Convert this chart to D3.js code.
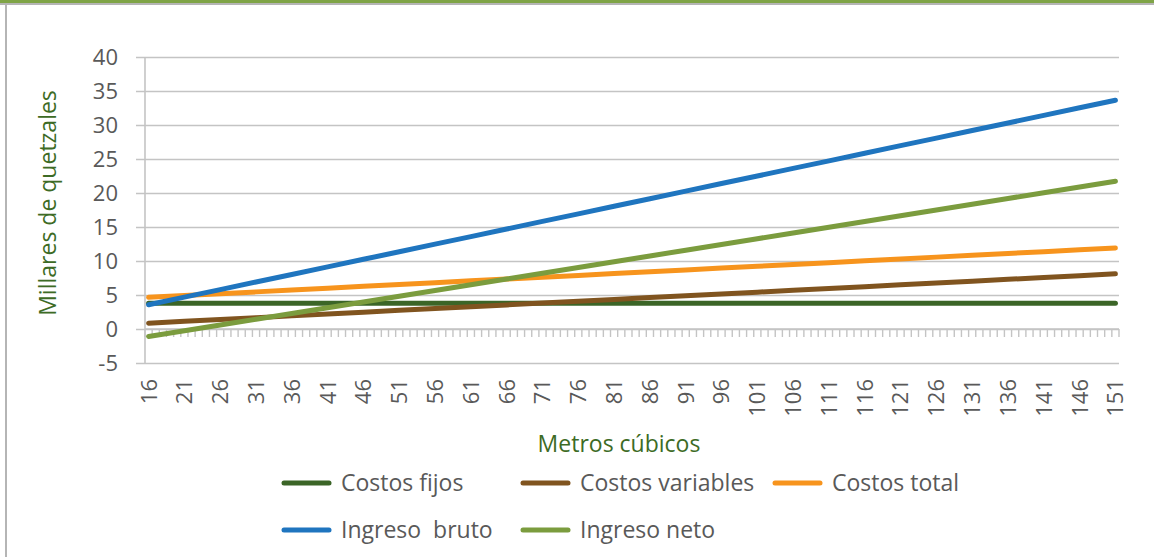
<!DOCTYPE html>
<html><head><meta charset="utf-8">
<script src="https://cdn.jsdelivr.net/npm/d3@7"></script>
<style>body{margin:0;background:#fff;} svg{display:block;}</style>
</head><body>
<svg id="chart" width="1154" height="557"></svg>
<script>
// ---- data ----
const categories = [16,17,18,19,20,21,22,23,24,25,26,27,28,29,30,31,32,33,34,35,36,37,38,39,40,41,42,43,44,45,46,47,48,49,50,51,52,53,54,55,56,57,58,59,60,61,62,63,64,65,66,67,68,69,70,71,72,73,74,75,76,77,78,79,80,81,82,83,84,85,86,87,88,89,90,91,92,93,94,95,96,97,98,99,100,101,102,103,104,105,106,107,108,109,110,111,112,113,114,115,116,117,118,119,120,121,122,123,124,125,126,127,128,129,130,131,132,133,134,135,136,137,138,139,140,141,142,143,144,145,146,147,148,149,150,151];
const tickLabels = [16,21,26,31,36,41,46,51,56,61,66,71,76,81,86,91,96,101,106,111,116,121,126,131,136,141,146,151];
const yTicks = [-5,0,5,10,15,20,25,30,35,40];
// values read at the labelled categories (tickLabels)
const costosFijos = [3.8,3.8,3.8,3.8,3.8,3.8,3.8,3.8,3.8,3.8,3.8,3.8,3.8,3.8,3.8,3.8,3.8,3.8,3.8,3.8,3.8,3.8,3.8,3.8,3.8,3.8,3.8,3.8];
const costosVariables = [0.86,1.13,1.40,1.66,1.93,2.20,2.47,2.74,3.01,3.28,3.54,3.81,4.08,4.35,4.62,4.89,5.16,5.42,5.69,5.96,6.23,6.50,6.77,7.03,7.30,7.57,7.84,8.11];
const costosTotal = [4.66,4.93,5.20,5.46,5.73,6.00,6.27,6.54,6.81,7.08,7.34,7.61,7.88,8.15,8.42,8.69,8.96,9.22,9.49,9.76,10.03,10.30,10.57,10.83,11.10,11.37,11.64,11.91];
const ingresoBruto = [3.56,4.68,5.79,6.91,8.02,9.13,10.25,11.36,12.48,13.59,14.70,15.82,16.93,18.05,19.16,20.27,21.39,22.50,23.62,24.73,25.84,26.96,28.07,29.19,30.30,31.41,32.53,33.64];
const ingresoNeto = [-1.09,-0.25,0.60,1.44,2.29,3.13,3.98,4.82,5.67,6.52,7.36,8.21,9.05,9.90,10.74,11.59,12.43,13.28,14.12,14.97,15.82,16.66,17.51,18.35,19.20,20.04,20.89,21.73];
const seriesNames = ["Costos fijos","Costos variables","Costos total","Ingreso  bruto","Ingreso neto"];
const seriesColors = ["#3b6527","#80541f","#f7941d","#1f75bf","#7b9c3e"];
const seriesValues = [costosFijos,costosVariables,costosTotal,ingresoBruto,ingresoNeto];

// ---- drawing ----
const svg = d3.select("#chart");
const FONT = "'Open Sans', Lato, sans-serif";
const L = 145, R = 1119, T = 57, B = 363;

// frame
svg.append("rect").attr("x",0).attr("y",0).attr("width",1154).attr("height",3).attr("fill","#7fa446");
svg.append("rect").attr("x",0).attr("y",3).attr("width",1154).attr("height",2).attr("fill","#b5b5b5");
svg.append("rect").attr("x",5).attr("y",3).attr("width",2).attr("height",554).attr("fill","#b5b5b5");

const x = d3.scalePoint().domain(categories).range([L,R]).padding(0.5);
const y = d3.scaleLinear().domain([-5,40]).range([B,T]);
const step = x.step();

// y gridlines + axis
const yAxis = d3.axisLeft(y).tickValues(yTicks).tickSize(-(R-L)).tickPadding(27).tickFormat(d=>d);
const gy = svg.append("g").attr("transform",`translate(${L},0)`).call(yAxis);
gy.select(".domain").remove();
gy.selectAll(".tick line").attr("x1",-9).attr("stroke","#c4c4c4").attr("stroke-width",1.6);
gy.selectAll(".tick text").attr("font-family",FONT).attr("font-size",22).attr("fill","#595959");
svg.append("line").attr("x1",L).attr("x2",L).attr("y1",T).attr("y2",B).attr("stroke","#c4c4c4").attr("stroke-width",1.6);

// x axis at y=0 with category-boundary ticks
const y0 = y(0);
const gx = svg.append("g");
gx.selectAll("line.tk").data(categories.concat(["end"])).join("line")
  .attr("x1",(d,i)=> i<categories.length ? x(d)-step/2 : x(categories[categories.length-1])+step/2)
  .attr("x2",(d,i)=> i<categories.length ? x(d)-step/2 : x(categories[categories.length-1])+step/2)
  .attr("y1",y0).attr("y2",y0+8).attr("stroke","#c4c4c4").attr("stroke-width",1.4);
gx.append("line").attr("x1",L).attr("x2",R).attr("y1",y0).attr("y2",y0).attr("stroke","#c4c4c4").attr("stroke-width",1.6);

// x labels
svg.append("g").selectAll("text").data(tickLabels).join("text")
  .attr("transform",d=>`translate(${x(d)},379) rotate(-90)`)
  .attr("text-anchor","end").attr("dy","0.36em")
  .attr("font-family",FONT).attr("font-size",22).attr("fill","#595959")
  .text(d=>d);

// lines
const line = d3.line().x(d=>x(d[0])).y(d=>y(d[1]));
seriesValues.forEach((vals,i)=>{
  svg.append("path").datum(tickLabels.map((c,j)=>[c,vals[j]]))
    .attr("d",line).attr("fill","none").attr("stroke",seriesColors[i])
    .attr("stroke-width",5).attr("stroke-linecap","round").attr("stroke-linejoin","round");
});

// axis titles
svg.append("text").attr("transform","translate(56,203) rotate(-90)").attr("text-anchor","middle")
  .attr("font-family",FONT).attr("font-size",23).attr("fill","#3d6b25").text("Millares de quetzales");
svg.append("text").attr("x",619).attr("y",452).attr("text-anchor","middle")
  .attr("font-family",FONT).attr("font-size",23).attr("fill","#3d6b25").text("Metros cúbicos");

// legend
const legendPos = [[282,483],[521,483],[773,483],[282,530],[521,530]];
seriesNames.forEach((n,i)=>{
  const [lx,ly] = legendPos[i];
  svg.append("line").attr("x1",lx+2).attr("x2",lx+47).attr("y1",ly).attr("y2",ly)
    .attr("stroke",seriesColors[i]).attr("stroke-width",5).attr("stroke-linecap","round");
  svg.append("text").attr("x",lx+59).attr("y",ly).attr("dy","0.35em")
    .attr("font-family",FONT).attr("font-size",23).attr("fill","#595959")
    .style("white-space","pre").text(n);
});
</script>
</body></html>
